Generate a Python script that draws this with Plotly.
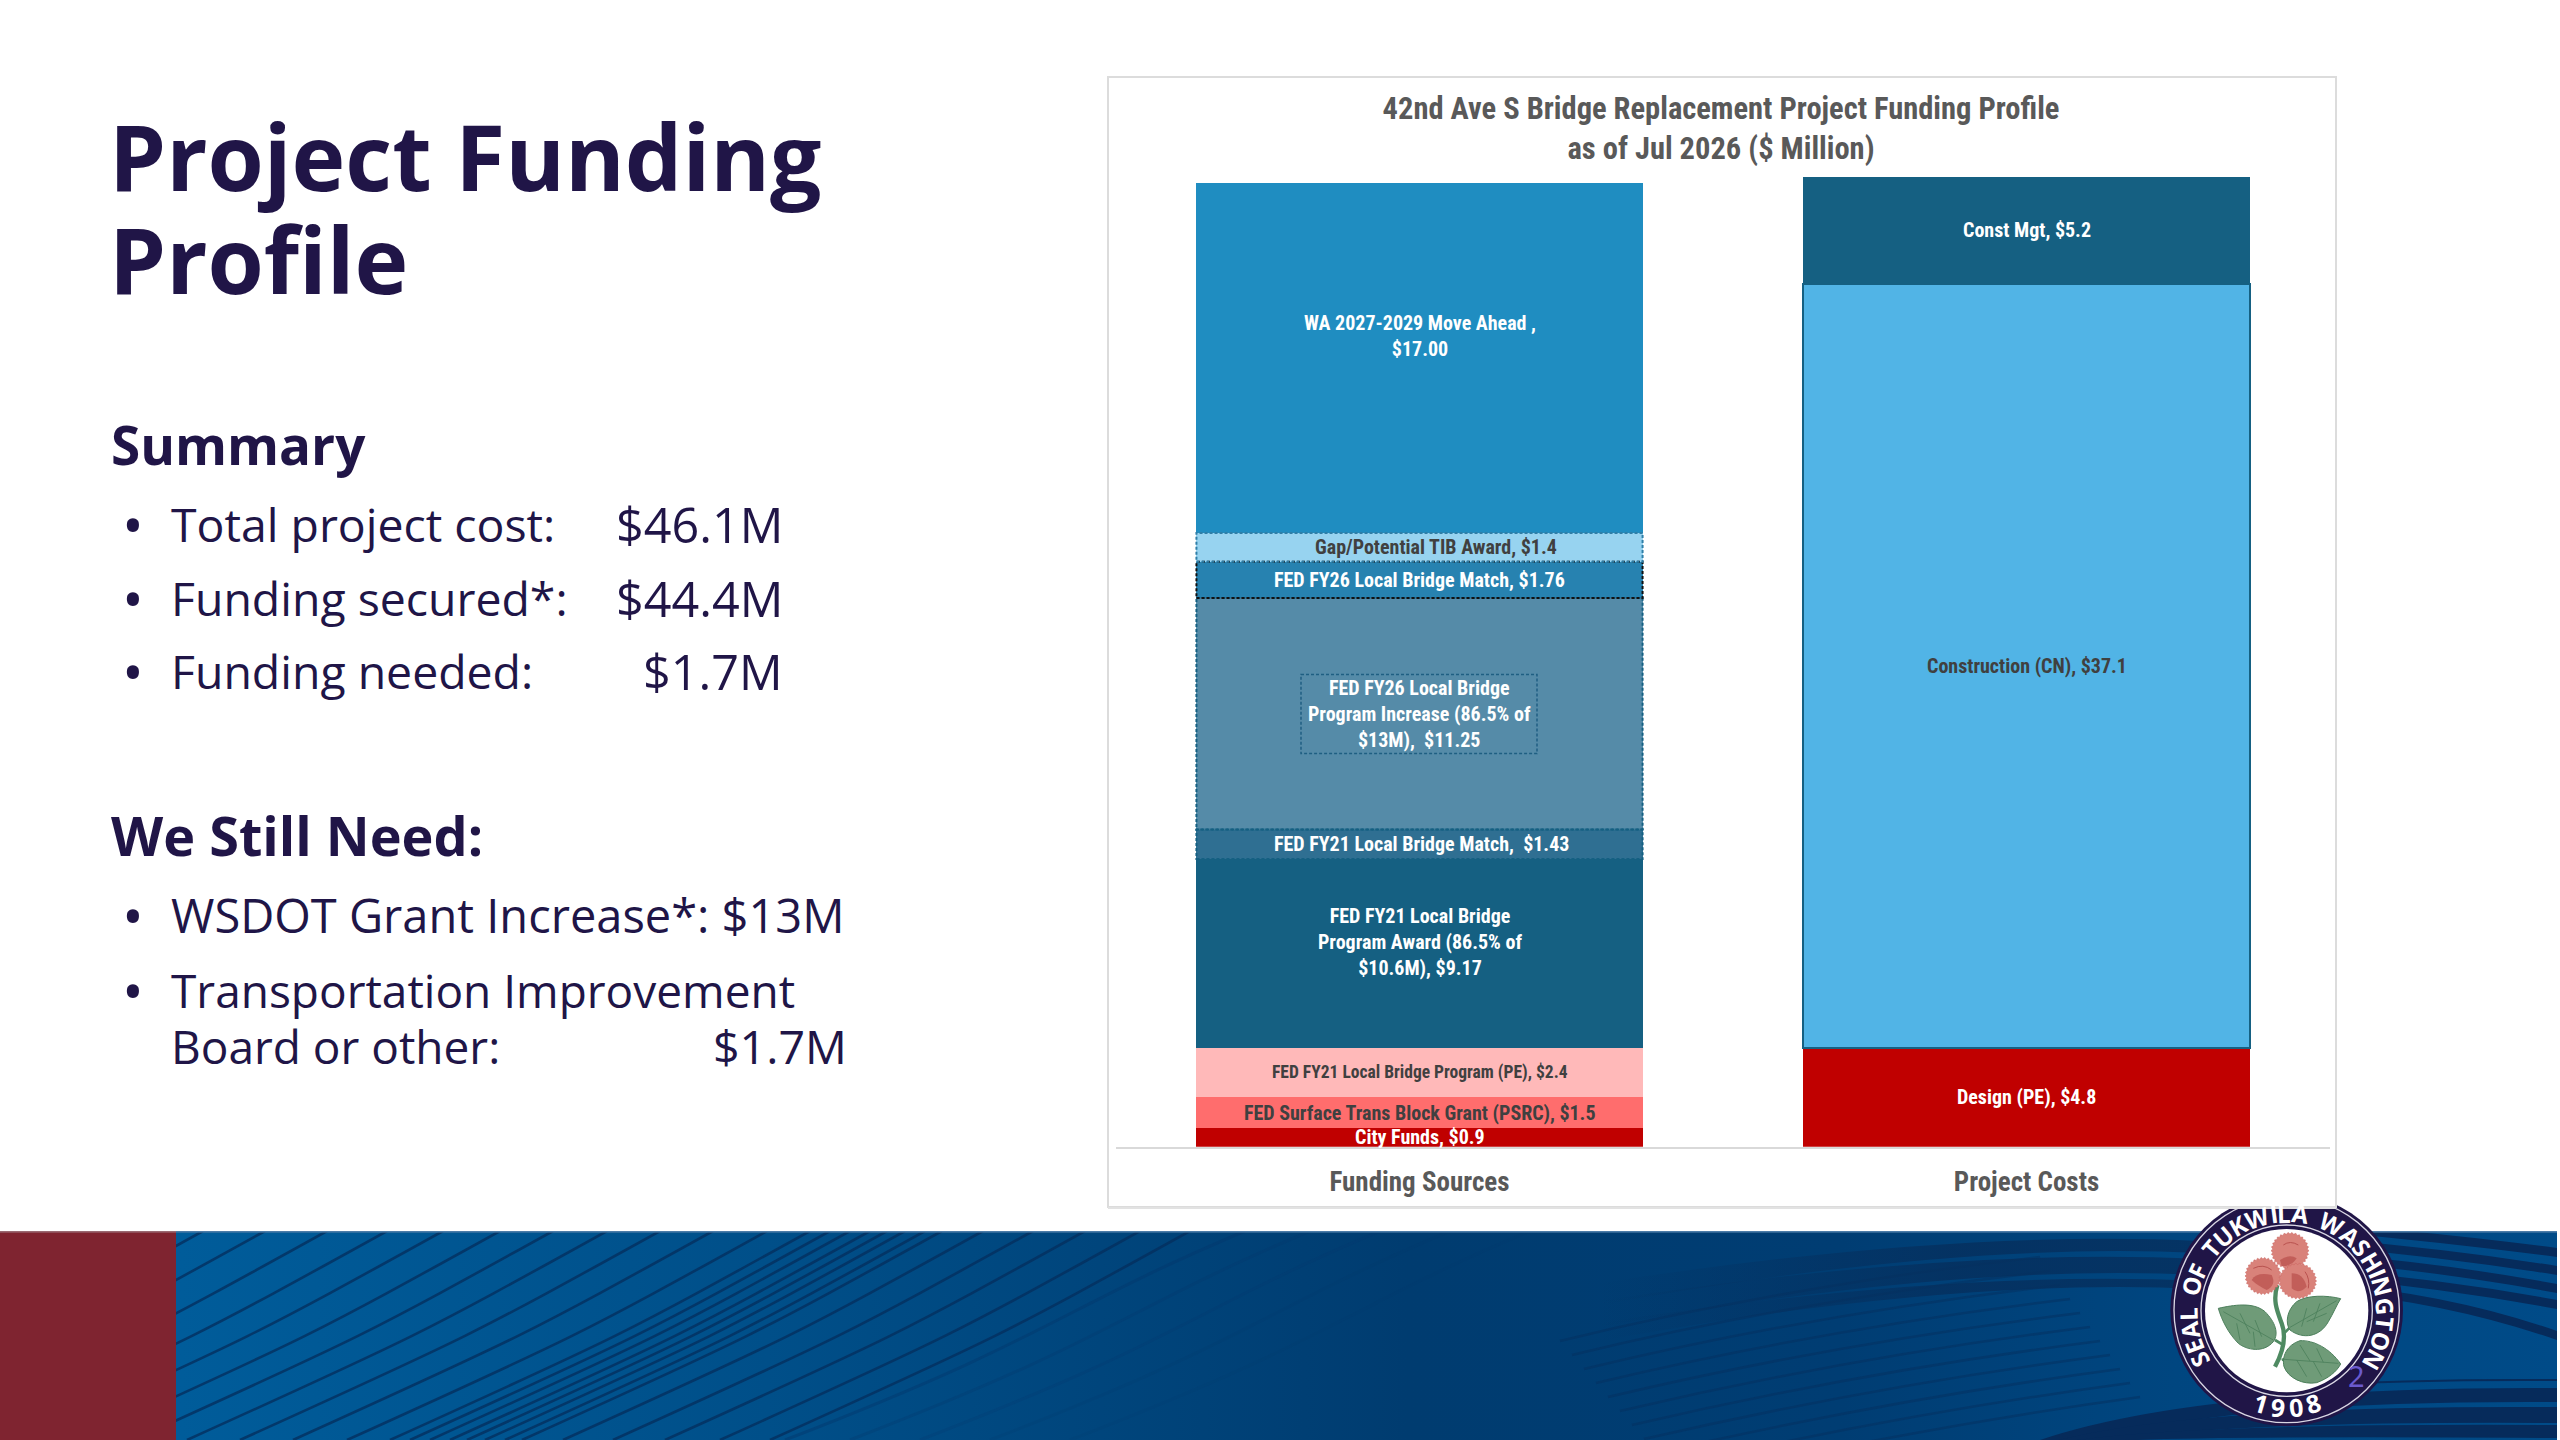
import base64
import math
import plotly.graph_objects as go

W, H = 2560, 1440

# ---------- chart data ----------
categories = ["Funding Sources", "Project Costs"]

source_names = ["City Funds", "FED Surface Trans Block Grant (PSRC)", "FED FY21 Local Bridge Program (PE)",
                "FED FY21 Local Bridge Program Award", "FED FY21 Local Bridge Match",
                "FED FY26 Local Bridge Program Increase", "FED FY26 Local Bridge Match",
                "Gap/Potential TIB Award", "WA 2027-2029 Move Ahead"]
source_values = [0.9, 1.5, 2.4, 9.17, 1.43, 11.25, 1.76, 1.4, 17.0]
source_labels = ["City Funds, $0.9", "FED Surface Trans Block Grant (PSRC), $1.5",
                 "FED FY21 Local Bridge Program (PE), $2.4",
                 "FED FY21 Local Bridge<br>Program Award (86.5% of<br>$10.6M), $9.17",
                 "FED FY21 Local Bridge Match,  $1.43",
                 "FED FY26 Local Bridge<br>Program Increase (86.5% of<br>$13M),  $11.25",
                 "FED FY26 Local Bridge Match, $1.76", "Gap/Potential TIB Award, $1.4",
                 "WA 2027-2029 Move Ahead ,<br>$17.00"]
source_colors = ["#C00000", "#FF6D6D", "#FFB9B9", "#156082", "#2F6F92", "#558BA8", "#2782B0", "#97D3F0", "#1F8DC1"]
source_text = ["#FFFFFF", "#404040", "#404040", "#FFFFFF", "#FFFFFF", "#FFFFFF", "#FFFFFF", "#404040", "#FFFFFF"]
source_size = [20, 20, 17.5, 20, 20, 20, 20, 20, 20]
source_xshift = [0, 0, 0, 0, 2, 0, 0, 16, 0]
source_yshift = [0, 0, 0, 11, 0, 0, 0, 0, 22]
source_dash = [None, None, None, None, "#156082", "#156082", "#111111", "#2F7FA8", None]

cost_names = ["Design (PE)", "Construction (CN)", "Const Mgt"]
cost_values = [4.8, 37.1, 5.2]
cost_labels = ["Design (PE), $4.8", "Construction (CN), $37.1", "Const Mgt, $5.2"]
cost_colors = ["#C00000", "#51B4E6", "#156082"]
cost_text = ["#FFFFFF", "#404040", "#FFFFFF"]
cost_line = [None, "#156082", None]

chart_title = "42nd Ave S Bridge Replacement Project Funding Profile<br>as of Jul 2026 ($ Million)"

# ---------- slide text ----------
slide_title = ["Project Funding", "Profile"]
heading_1 = "Summary"
heading_2 = "We Still Need:"
summary_items = ["Total project cost:", "Funding secured*:", "Funding needed:"]
summary_amounts = ["$46.1M", "$44.4M", "$1.7M"]
need_items = ["WSDOT Grant Increase*: $13M", "Transportation Improvement", "Board or other:"]
need_amount = "$1.7M"
seal_ring = "SEAL OF TUKWILA WASHINGTON"
seal_year = "1908"
slide_number = "2"

NAVY = "#201547"
BODY_FONT = "Open Sans"
CHART_FONT = "Roboto Condensed, Roboto"


def fx(x):
    return x / W


def fy(y):
    return 1 - y / H


# ---------- footer artwork (no text) ----------
def footer_svg():
    parts = [
        '<svg xmlns="http://www.w3.org/2000/svg" width="2560" height="209" viewBox="0 0 2560 209">',
        '<defs><linearGradient id="g" x1="0" x2="1" y1="0" y2="0">'
        '<stop offset="0.07" stop-color="#005C9A"/><stop offset="0.30" stop-color="#004F89"/>'
        '<stop offset="0.55" stop-color="#003C70"/><stop offset="0.72" stop-color="#003D73"/>'
        '<stop offset="0.85" stop-color="#004680"/><stop offset="1" stop-color="#004B88"/>'
        '</linearGradient>'
        '<linearGradient id="fade" gradientUnits="userSpaceOnUse" x1="1600" x2="1950" y1="0" y2="0">'
        '<stop offset="0" stop-color="#05305F" stop-opacity="0"/><stop offset="1" stop-color="#05305F" stop-opacity="0.85"/>'
        '</linearGradient></defs>',
        '<rect x="0" y="0" width="2557" height="209" fill="url(#g)"/>',
    ]
    tops = [203, 265, 327, 387, 443, 500, 553, 607, 660, 713, 767, 810, 830, 850, 870, 887, 905, 925, 942,
            983, 1033, 1085, 1140, 1190]
    for xt in tops:
        parts.append(f'<path d="M{xt},0 C{xt-190},105 {xt-190},105 {xt-420},209" fill="none" '
                     f'stroke="#04305F" stroke-width="2.6" opacity="0.8"/>')
    for xt, op in [(1245, .45), (1310, .3), (1380, .22), (1450, .16), (1530, .12)]:
        parts.append(f'<path d="M{xt},0 C{xt-190},80 {xt-190},105 {xt-460},209" fill="none" '
                     f'stroke="#03386C" stroke-width="3" opacity="{op}"/>')
    # faint rising arcs
    for i, y0 in enumerate([58, 72, 86, 100, 114, 128, 142, 156, 170, 184, 198]):
        parts.append(f'<path d="M{1560+i*12},{y0+52} Q{1780+i*14},{y0-2} {2040+i*10},{y0-32}" fill="none" '
                     f'stroke="#03305F" stroke-width="2.5" opacity="0.5"/>')
    # dark bands at upper right of the middle
    for top, bot in [(2, 14), (20, 36), (42, 50)]:
        parts.append(f'<path d="M1600,{top+50} Q1950,{top-4} 2200,{top+8} L2200,{bot+8} Q1950,{bot-4} 1600,{bot+60}Z" '
                     f'fill="url(#fade)"/>')
    # falling stripes far right
    for y0, y1 in [(1, 17), (16, 35), (31, 53), (47, 69), (61, 100)]:
        parts.append(f'<path d="M2330,{y0-8} Q2450,{y0+2} 2557,{y1} L2557,{y1+9} Q2450,{y0+11} 2330,{y0}Z" fill="#062B5B"/>')
    # rising bands lower right
    for top, bot in [(157, 171), (176, 192), (194, 207)]:
        parts.append(f'<path d="M{2040+top-157},209 Q2200,{top-2} 2557,{top} L2557,{bot} Q2230,{bot-2} {2100+top-157},209Z" fill="#062B5B"/>')
    parts.append('<path d="M2280,155 Q2420,148 2557,149" fill="none" stroke="#062B5B" stroke-width="2"/>')
    parts.append('<rect x="0" y="0" width="176" height="209" fill="#7F2430"/>')
    parts.append('<rect x="176" y="0" width="2381" height="1.6" fill="#4C7CA8"/>')
    parts.append('<rect x="0" y="0" width="176" height="1.6" fill="#9A6A72"/>')
    parts.append('</svg>')
    return "".join(parts)


def ruffle(cx, cy, rx, ry, teeth=30):
    pts = []
    for k in range(teeth * 2):
        a = math.pi * k / teeth
        f = 1.0 if k % 2 == 0 else 0.91
        pts.append(f"{cx + rx * f * math.cos(a):.1f},{cy + ry * f * math.sin(a):.1f}")
    return " ".join(pts)


def seal_svg():
    leaf = 'fill="#6F9B78" stroke="#4C7F5B" stroke-width="3"'
    vein = 'fill="none" stroke="#4C7F5B" stroke-width="2.5"'
    petal = 'fill="#D9827A" stroke="#C8635F" stroke-width="1.5"'
    dark = 'fill="#B9524F" opacity="0.75"'
    streak = 'fill="none" stroke="#B9524F" stroke-width="3"'
    parts = [
        '<svg xmlns="http://www.w3.org/2000/svg" width="900" height="750" viewBox="0 0 900 750">',
        f'<circle cx="440" cy="360" r="349" fill="{NAVY}"/>',
        '<circle cx="440" cy="360" r="338" fill="none" stroke="#D9D7E4" stroke-width="4"/>',
        '<circle cx="440" cy="362" r="257" fill="none" stroke="#D9D7E4" stroke-width="4"/>',
        '<circle cx="440" cy="362" r="245" fill="#FFFFFF"/>',
        '<path d="M412,285 C398,330 410,360 425,400 C440,440 432,480 405,530" fill="none" stroke="#4F8A62" stroke-width="13"/>',
        '<path d="M430,465 L405,450 M432,430 L450,412 M425,510 L445,503" fill="none" stroke="#4F8A62" stroke-width="8"/>',
        f'<path d="M235,355 C280,345 340,335 375,365 C405,395 418,430 400,455 C370,490 320,480 295,460 C265,430 245,390 235,355Z" {leaf}/>',
        f'<path d="M602,326 C560,315 500,315 470,335 C440,360 435,400 450,420 C490,450 540,440 565,395 C580,370 590,345 602,326Z" {leaf}/>',
        f'<path d="M602,522 C570,475 520,450 480,452 C440,465 425,500 432,530 C445,565 490,585 530,578 C565,565 590,545 602,522Z" {leaf}/>',
        f'<path d="M250,365 L400,450 M300,370 L330,430 M345,390 L365,440 M290,400 L300,450 M340,425 L345,470" {vein}/>',
        f'<path d="M590,332 L450,412 M540,340 L520,395 M500,355 L485,410 M560,370 L500,395" {vein}/>',
        f'<path d="M595,520 L432,508 M480,465 L510,513 M530,475 L550,517 M470,510 L500,560 M520,515 L545,560" {vein}/>',
        f'<polygon points="{ruffle(450, 182, 57, 55)}" {petal}/>',
        f'<polygon points="{ruffle(369, 258, 54, 56)}" {petal}/>',
        f'<polygon points="{ruffle(473, 273, 57, 54)}" {petal}/>',
        f'<path d="M420,210 Q450,190 470,205 Q455,230 425,228Z" {dark}/>',
        f'<path d="M335,270 Q350,245 395,255 Q410,285 380,300 Q350,285 335,270Z" {dark}/>',
        f'<path d="M455,250 Q490,250 500,290 Q475,315 455,295Z" {dark}/>',
        f'<path d="M430,165 Q450,150 475,165 M340,235 Q370,220 395,240 M495,245 Q510,265 505,295" {streak}/>',
        '</svg>',
    ]
    return "".join(parts)


def data_uri(svg):
    return "data:image/svg+xml;base64," + base64.b64encode(svg.encode()).decode()


# ---------- figure ----------
fig = go.Figure()
for name, val, col in zip(source_names, source_values, source_colors):
    fig.add_trace(go.Bar(x=[categories[0]], y=[val], name=name, marker=dict(color=col, line=dict(width=0)),
                         width=0.735, showlegend=False, hoverinfo="name+y"))
for name, val, col, ln in zip(cost_names, cost_values, cost_colors, cost_line):
    fig.add_trace(go.Bar(x=[categories[1]], y=[val], name=name,
                         marker=dict(color=col, line=dict(width=2 if ln else 0, color=ln or col)),
                         width=0.735, showlegend=False, hoverinfo="name+y"))

annotations = []
shapes = []


def segment_label(cat, base, val, label, color, size=20, xshift=0, yshift=0):
    annotations.append(dict(x=cat, y=base + val / 2, xref="x", yref="y", text=label, showarrow=False,
                            font=dict(family=CHART_FONT, size=size, color=color, weight=700),
                            xanchor="center", yanchor="middle", align="center", xshift=xshift, yshift=yshift))


base = 0.0
half = 0.735 / 2
for i, val in enumerate(source_values):
    segment_label(categories[0], base, val, source_labels[i], source_text[i], source_size[i],
                  source_xshift[i], source_yshift[i])
    if source_dash[i]:
        shapes.append(dict(type="rect", xref="x", yref="y", x0=-half, x1=half, y0=base, y1=base + val,
                           line=dict(color=source_dash[i], width=2, dash="3px,2px"), layer="above"))
    base += val
base = 0.0
for i, val in enumerate(cost_values):
    segment_label(categories[1], base, val, cost_labels[i], cost_text[i])
    base += val

# dashed box round the FY26 label
shapes.append(dict(type="rect", xref="paper", yref="paper", x0=fx(1301), x1=fx(1537), y0=fy(674.5), y1=fy(753.6),
                   line=dict(color="#1F5F82", width=1.5, dash="3px,2px"), layer="above"))

# card behind chart
shapes.insert(0, dict(type="rect", xref="paper", yref="paper", x0=fx(1108), x1=fx(2336), y0=fy(1207), y1=fy(77),
                      fillcolor="#FFFFFF", line=dict(color="#DCDCDC", width=2), layer="below"))
shapes.insert(1, dict(type="line", xref="paper", yref="paper", x0=fx(1108), x1=fx(2336), y0=fy(1208), y1=fy(1208),
                      line=dict(color="#E2E2E2", width=2), layer="below"))


def para(x, y, text, size, weight=400, anchor="left", color=NAVY, **extra):
    annotations.append(dict(x=fx(x), y=fy(y), xref="paper", yref="paper", text=text, showarrow=False,
                            font=dict(family=BODY_FONT, size=size, color=color, weight=weight),
                            xanchor=anchor, yanchor="middle", align=anchor, **extra))


para(107, 168, slide_title[0], 91, 700, height=100, valign="bottom")
para(107, 271, slide_title[1], 91, 700, height=100, valign="bottom")
para(109, 444, heading_1, 53, 700)
para(109, 835, heading_2, 54, 700)
for item, amt, y in zip(summary_items, summary_amounts, [524, 598, 671]):
    para(120, y, "•", 58)
    para(169, y, item, 46.4)
    para(785, y, amt, 48.5, anchor="right")
para(120, 915, "•", 58)
para(169, 915, need_items[0], 47)
para(120, 990, "•", 58)
para(169, 990, need_items[1], 46)
para(169, 1046, need_items[2], 46)
para(849, 1046, need_amount, 46.5, anchor="right")

# seal lettering on the ring
SEAL_CX, SEAL_CY = 2286.7, 1310
weights = {"I": 0.42, " ": 0.62, "W": 1.45, "L": 0.8, "E": 0.85, "F": 0.8, "T": 0.9, "K": 1.0, "S": 0.85,
           "O": 1.15, "G": 1.1, "N": 1.15, "H": 1.1, "A": 1.05, "U": 1.05}
w_list = [weights.get(c, 1) for c in seal_ring]
centers = []
acc = 0.0
for w in w_list:
    centers.append(acc + w / 2)
    acc += w
span0, span1 = centers[0], centers[-1]
for c, pos in zip(seal_ring, centers):
    if c == " ":
        continue
    ang = -119 + (pos - span0) / (span1 - span0) * 238
    rad = math.radians(ang)
    annotations.append(dict(x=fx(SEAL_CX + 99 * math.sin(rad)), y=fy(SEAL_CY + 2 - 99 * math.cos(rad)),
                            xref="paper", yref="paper", text=c, showarrow=False, textangle=ang,
                            font=dict(family=BODY_FONT, size=24, color="#FFFFFF", weight=700),
                            xanchor="center", yanchor="middle"))
for c, ang in zip(seal_year, [-16, -5.5, 5.5, 16]):
    rad = math.radians(ang)
    annotations.append(dict(x=fx(SEAL_CX + 95 * math.sin(rad)), y=fy(SEAL_CY + 2 + 95 * math.cos(rad)),
                            xref="paper", yref="paper", text=c, showarrow=False, textangle=-ang,
                            font=dict(family=BODY_FONT, size=25, color="#FFFFFF", weight=700),
                            xanchor="center", yanchor="middle"))
annotations.append(dict(x=fx(2356), y=fy(1375), xref="paper", yref="paper", text=slide_number, showarrow=False,
                        font=dict(family="Noto Sans", size=29, color="#6A5ACD"), xanchor="center", yanchor="middle"))

images = [
    dict(source=data_uri(footer_svg()), xref="paper", yref="paper", x=0, y=fy(1231), sizex=1, sizey=209 / H,
         sizing="stretch", xanchor="left", yanchor="top", layer="below"),
    dict(source=data_uri(seal_svg()), xref="paper", yref="paper", x=fx(2140), y=fy(1190), sizex=300 / W, sizey=250 / H,
         sizing="stretch", xanchor="left", yanchor="top", layer="below"),
]

AXIS_BOTTOM = 1146.7
PX_PER_UNIT = 20.59
Y_MAX = 48
fig.update_layout(
    width=W, height=H, margin=dict(l=0, r=0, t=0, b=0), autosize=False,
    paper_bgcolor="#FFFFFF", plot_bgcolor="rgba(0,0,0,0)", barmode="stack", showlegend=False,
    title=dict(text=chart_title, x=fx(1721), y=fy(119), xref="paper", yref="paper", xanchor="center", yanchor="middle",
               font=dict(family=CHART_FONT, size=30.5, color="#595959", weight=700)),
    xaxis=dict(domain=[fx(1116), fx(2330)], type="category", categoryorder="array", categoryarray=categories,
               range=[-0.5, 1.5], showline=True, linecolor="#D9D9D9", linewidth=2, showgrid=False, zeroline=False,
               ticks="outside", ticklen=10, tickcolor="rgba(0,0,0,0)", tickwidth=1,
               tickfont=dict(family=CHART_FONT, size=27, color="#595959", weight=700)),
    yaxis=dict(domain=[fy(AXIS_BOTTOM), fy(AXIS_BOTTOM - Y_MAX * PX_PER_UNIT)], range=[0, Y_MAX], visible=False),
    annotations=annotations, shapes=shapes, images=images,
)

fig.write_html("out.html", config={"displayModeBar": False},
               post_script="document.body.style.margin='0';document.body.style.overflow='hidden';")
